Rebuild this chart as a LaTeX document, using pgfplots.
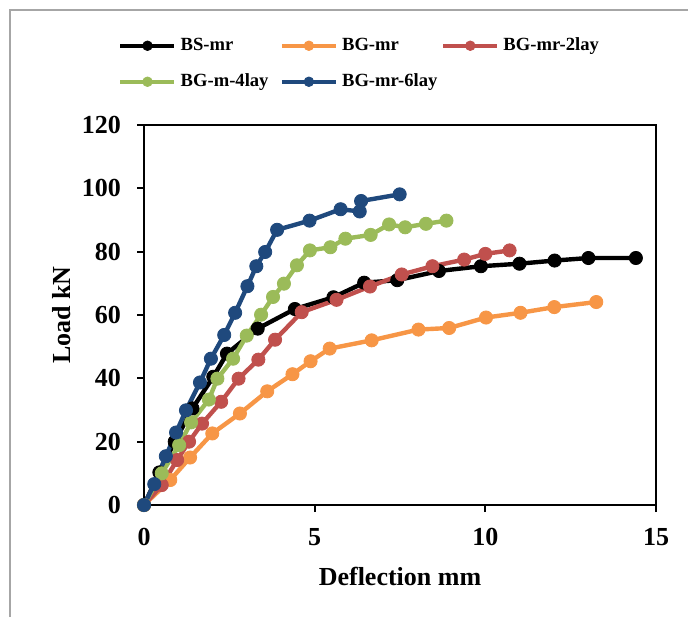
\documentclass[border=0pt]{standalone}
\usepackage{fontspec}
\setmainfont{Liberation Serif}
\usepackage{pgfplots}
\pgfplotsset{compat=1.18}

\definecolor{cBS}{RGB}{0,0,0}
\definecolor{cBG}{RGB}{247,150,70}
\definecolor{cTwo}{RGB}{192,80,77}
\definecolor{cFour}{RGB}{155,187,89}
\definecolor{cSix}{RGB}{31,73,125}

\newcommand{\lgd}[1]{\makebox[49.5pt][l]{#1}}

\begin{document}
\begin{tikzpicture}
\path[use as bounding box] (0,0) rectangle (344pt,308.5pt);
\draw[gray!70, line width=0.8pt] (5pt,0) -- (5pt,303.5pt) -- (344pt,303.5pt);
\begin{axis}[
    at={(72pt,56pt)}, anchor=south west,
    scale only axis,
    width=256pt, height=190pt,
    xmin=0, xmax=15, ymin=0, ymax=120,
    xtick={0,5,10,15}, ytick={0,20,...,120},
    axis line style={line width=1pt},
    tick style={line width=1pt, black},
    tick align=outside,
    major tick length=3.5pt,
    xtick pos=bottom, ytick pos=left,
    /pgf/number format/assume math mode=true,
    tick label style={font=\fontsize{13}{13}\selectfont\bfseries},
    xticklabel style={yshift=-4.5pt},
    yticklabel style={xshift=-4.5pt},
    xlabel={Deflection mm},
    ylabel={Load kN},
    label style={font=\fontsize{13}{13}\selectfont\bfseries},
    xlabel style={at={(rel axis cs:0.5,-0.187)}, anchor=center},
    ylabel style={at={(rel axis cs:-0.160,0.5)}, anchor=center, rotate=0},
    clip=false,
    every axis plot/.append style={line width=2.2pt, mark=*, mark size=3.3pt},
    legend columns=3,
    legend cell align=left,
    legend style={at={(rel axis cs:-0.051,1.232)}, anchor=north west,
        draw=none, fill=none, inner sep=0pt,
        font=\fontsize{9.3}{9.3}\selectfont\bfseries,
        nodes={inner sep=0pt, text height=6.5pt, text depth=2pt},
        row sep=9.5pt,
        /tikz/every odd column/.append style={column sep=2pt}},
    legend image code/.code={
        \draw[mark size=2.4pt, mark repeat=2, mark phase=2]
            plot coordinates {(0pt,0pt) (13.5pt,0pt) (27pt,0pt)};},
]
\addplot[color=cBS, mark options={fill=cBS, draw=cBS, line width=0.4pt}] coordinates {
(0,0) (0.45,10.3) (0.9,20) (1.42,30.5) (2.03,40.5) (2.43,47.8) (3.33,55.7)
(4.42,61.9) (5.55,65.6) (6.45,70.2) (7.42,71.0) (8.64,73.9) (9.87,75.4)
(11.0,76.2) (12.03,77.2) (13.02,78.0) (14.41,78.0)
};
\addlegendentry{\lgd{BS-mr}}
\addplot[color=cBG, mark options={fill=cBG, draw=cBG, line width=0.4pt}] coordinates {
(0,0) (0.77,7.9) (1.35,15.0) (2.0,22.6) (2.81,28.9) (3.61,35.9) (4.35,41.3)
(4.88,45.4) (5.44,49.4) (6.67,52.0) (8.04,55.4) (8.94,55.9) (10.02,59.2)
(11.03,60.7) (12.02,62.5) (13.25,64.1)
};
\addlegendentry{\lgd{BG-mr}}
\addplot[color=cTwo, mark options={fill=cTwo, draw=cTwo, line width=0.4pt}] coordinates {
(0,0) (0.52,6.3) (0.97,14.2) (1.32,20.0) (1.70,25.7) (2.26,32.6) (2.77,39.9)
(3.35,45.9) (3.84,52.2) (4.62,60.9) (5.64,64.8) (6.62,69.0) (7.55,72.8)
(8.45,75.4) (9.38,77.5) (10.0,79.3) (10.71,80.4)
};
\addlegendentry{\lgd{BG-mr-2lay}}
\addplot[color=cFour, mark options={fill=cFour, draw=cFour, line width=0.4pt}] coordinates {
(0,0) (0.52,10.0) (1.03,18.9) (1.38,26.1) (1.90,33.3) (2.15,39.9) (2.61,46.2)
(3.01,53.5) (3.43,60.1) (3.78,65.7) (4.10,69.9) (4.48,75.7) (4.86,80.4)
(5.46,81.4) (5.90,84.1) (6.64,85.3) (7.18,88.6) (7.65,87.7) (8.26,88.8) (8.86,89.8)
};
\addlegendentry{\lgd{BG-m-4lay}}
\addplot[color=cSix, mark options={fill=cSix, draw=cSix, line width=0.4pt}] coordinates {
(0,0) (0.30,6.6) (0.64,15.4) (0.94,22.9) (1.23,29.9) (1.64,38.7) (1.96,46.2)
(2.35,53.7) (2.67,60.7) (3.03,69.1) (3.29,75.4) (3.55,79.9) (3.90,86.9)
(4.85,89.8) (5.76,93.4) (6.32,92.7) (6.36,96.0) (7.49,98.1)
};
\addlegendentry{\lgd{BG-mr-6lay}}
\end{axis}
\end{tikzpicture}
\end{document}
